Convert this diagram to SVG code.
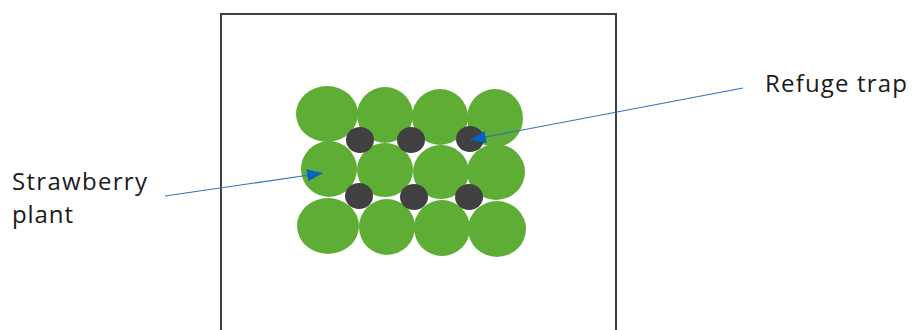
<svg xmlns="http://www.w3.org/2000/svg" width="912" height="330" viewBox="0 0 912 330">
<style>
.plant{fill:#5EAD35}
.trap{fill:#404040}
.lbl{font-family:"Open Sans","Liberation Sans",sans-serif;font-size:24px;fill:#1a1a1a}
.conn{stroke:#2E75B6;stroke-width:1.2;fill:none}
</style>
<defs>
<marker id="ah" markerUnits="userSpaceOnUse" markerWidth="18" markerHeight="14" refX="16" refY="6" orient="auto">
<path d="M0,0 L16,6 L0,12 Z" fill="#0563C1"/>
</marker>
</defs>
<rect x="221" y="14" width="395" height="330" fill="#fff" stroke="#404040" stroke-width="2"/>
<g id="plants">
<ellipse class="plant" cx="327" cy="114" rx="31" ry="28"/>
<ellipse class="plant" cx="385" cy="115" rx="28" ry="28"/>
<ellipse class="plant" cx="440" cy="117" rx="28" ry="28"/>
<ellipse class="plant" cx="495" cy="118" rx="28" ry="29"/>
<ellipse class="plant" cx="329" cy="169" rx="28" ry="28"/>
<ellipse class="plant" cx="385" cy="170" rx="28" ry="27"/>
<ellipse class="plant" cx="441" cy="172" rx="28" ry="27"/>
<ellipse class="plant" cx="496" cy="172" rx="29" ry="28"/>
<ellipse class="plant" cx="328" cy="226" rx="31" ry="28"/>
<ellipse class="plant" cx="387" cy="227" rx="28" ry="28"/>
<ellipse class="plant" cx="442" cy="228" rx="28" ry="28"/>
<ellipse class="plant" cx="497" cy="229" rx="29" ry="28"/>
</g>
<g id="traps">
<ellipse class="trap" cx="360" cy="140" rx="14" ry="13"/>
<ellipse class="trap" cx="411" cy="140" rx="14" ry="13"/>
<ellipse class="trap" cx="470" cy="139" rx="14" ry="13"/>
<ellipse class="trap" cx="359" cy="196" rx="14" ry="13"/>
<ellipse class="trap" cx="414" cy="197" rx="14" ry="13"/>
<ellipse class="trap" cx="469" cy="197" rx="14" ry="13"/>
</g>
<g id="connectors">
<line class="conn" x1="165" y1="196" x2="323" y2="173" marker-end="url(#ah)"/>
<line class="conn" x1="743" y1="88" x2="470" y2="140" marker-end="url(#ah)"/>
</g>
<g id="label-strawberry">
<text class="lbl" x="12" y="190" textLength="135" lengthAdjust="spacing">Strawberry</text>
<text class="lbl" x="12" y="223" textLength="61" lengthAdjust="spacing">plant</text>
</g>
<g id="label-trap">
<text class="lbl" x="765" y="92" textLength="142" lengthAdjust="spacing">Refuge trap</text>
</g>
</svg>
